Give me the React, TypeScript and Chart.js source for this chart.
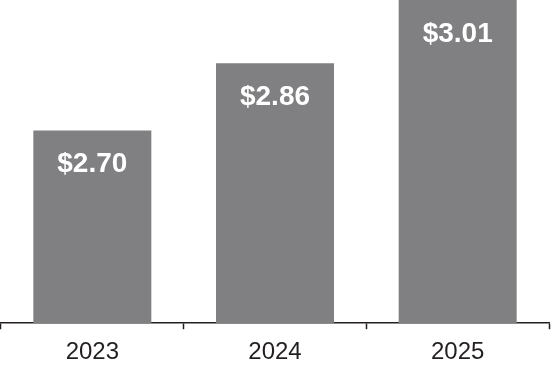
import React, { useEffect, useRef } from "react";
import { Chart, registerables } from "chart.js";

Chart.register(...registerables);

const categories = ["2023", "2024", "2025"];
const values = [2.7, 2.86, 3.01];
const valueLabels = ["$2.70", "$2.86", "$3.01"];
const yMin = 2.242;
const yMax = 3.01;

const FONT = "'Liberation Sans', Arial, Helvetica, sans-serif";

const labelPlugin = {
  id: "barLabels",
  afterDatasetsDraw(chart: any) {
    const ctx = chart.ctx;
    const meta = chart.getDatasetMeta(0);
    ctx.save();
    ctx.fillStyle = "#ffffff";
    ctx.font = `bold 28px ${FONT}`;
    ctx.textAlign = "center";
    ctx.textBaseline = "middle";
    meta.data.forEach((bar: any, i: number) => {
      ctx.fillText(valueLabels[i], bar.x, bar.y + 34);
    });
    ctx.restore();
  },
};

export default function App() {
  const ref = useRef<HTMLCanvasElement | null>(null);
  useEffect(() => {
    document.body.style.margin = "0";
    if (!ref.current) return;
    const chart = new Chart(ref.current, {
      type: "bar",
      data: {
        labels: categories,
        datasets: [
          {
            data: values,
            backgroundColor: "#808083",
            borderWidth: 0,
            categoryPercentage: 1,
            barPercentage: 0.646,
          },
        ],
      },
      options: {
        animation: false,
        responsive: false,
        maintainAspectRatio: false,
        layout: { padding: { left: 1, right: 2, top: 0, bottom: -8 } },
        plugins: { legend: { display: false }, tooltip: { enabled: false } },
        scales: {
          y: { display: false, min: yMin, max: yMax },
          x: {
            grid: {
              display: true,
              drawOnChartArea: false,
              drawTicks: true,
              tickLength: 6,
              tickWidth: 1.5,
              tickColor: "#231f20",
              offset: true,
            },
            border: { display: true, color: "#231f20", width: 1.5 },
            ticks: {
              color: "#231f20",
              font: { family: FONT, size: 24 },
              padding: 9,
            },
          },
        },
      },
      plugins: [labelPlugin],
    });
    return () => chart.destroy();
  }, []);
  return (
    <div style={{ width: 551, height: 368 }}>
      <canvas ref={ref} width={551} height={368} style={{ display: "block" }} />
    </div>
  );
}
